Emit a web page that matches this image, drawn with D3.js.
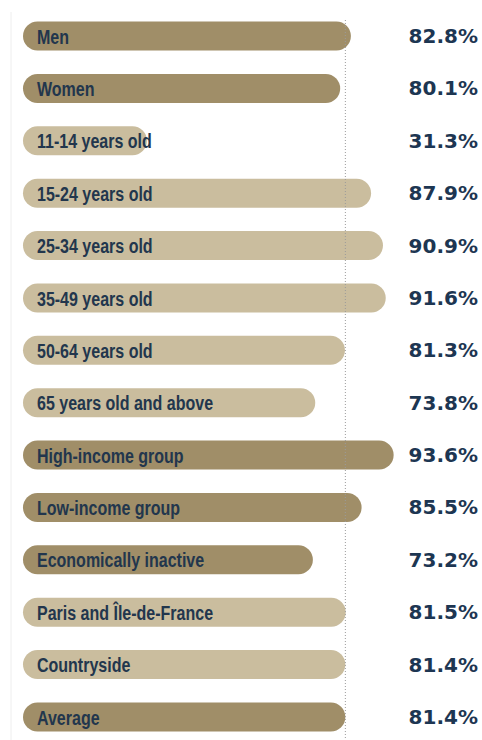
<!DOCTYPE html>
<html>
<head>
<meta charset="utf-8">
<script src="https://cdn.jsdelivr.net/npm/d3@7"></script>
<style>
  body { margin: 0; background: #fff; }
  .label { font-family: "Liberation Sans", Arial, sans-serif; font-weight: bold; }
  .value { font-family: "DejaVu Sans", sans-serif; font-weight: bold; }
</style>
</head>
<body>
<div id="chart"></div>
<script>
// data
const categories = ["Men", "Women", "11-14 years old", "15-24 years old", "25-34 years old",
    "35-49 years old", "50-64 years old", "65 years old and above", "High-income group",
    "Low-income group", "Economically inactive", "Paris and Île-de-France", "Countryside", "Average"];
const values = [82.8, 80.1, 31.3, 87.9, 90.9, 91.6, 81.3, 73.8, 93.6, 85.5, 73.2, 81.5, 81.4, 81.4];
// which group each bar belongs to (dark = sex / income, light = age / area)
const groups = ["dark", "dark", "light", "light", "light", "light", "light", "light",
    "dark", "dark", "dark", "light", "light", "dark"];
const average = 81.4;

const data = categories.map((c, i) => ({ name: c, value: values[i], group: groups[i] }));

const width = 482, height = 740;
const barH = 29;

const svg = d3.select("#chart")
    .append("svg")
    .attr("width", width)
    .attr("height", height);

const xScale = d3.scaleLinear()
    .domain([0, 100])
    .range([23, 23 + 396]);

const yScale = d3.scalePoint()
    .domain(categories)
    .range([36, 717]);

const colorScale = d3.scaleOrdinal()
    .domain(["dark", "light"])
    .range(["#a08e68", "#cabd9e"]);

// faint frame line on the left
svg.append("line")
    .attr("x1", 11).attr("x2", 11)
    .attr("y1", 12).attr("y2", height)
    .attr("stroke", "#eeeeee")
    .attr("stroke-width", 1);

// bars
svg.selectAll(".bar")
    .data(data)
    .enter().append("rect")
    .attr("class", "bar")
    .attr("x", xScale(0))
    .attr("y", d => yScale(d.name) - barH / 2)
    .attr("width", d => xScale(d.value) - xScale(0))
    .attr("height", barH)
    .attr("rx", barH / 2)
    .attr("fill", d => colorScale(d.group));

// dotted average line
svg.append("line")
    .attr("x1", xScale(average)).attr("x2", xScale(average))
    .attr("y1", 20).attr("y2", 738)
    .attr("stroke", "#9a9a9a")
    .attr("stroke-width", 1)
    .attr("stroke-dasharray", "1,2");

// labels inside bars (condensed look by squeezing horizontally)
svg.selectAll(".label")
    .data(data)
    .enter().append("text")
    .attr("class", "label")
    .attr("transform", d => `translate(${xScale(0) + 14},${yScale(d.name) + 1}) scale(0.8,1)`)
    .attr("dominant-baseline", "central")
    .attr("font-size", 20)
    .attr("fill", "#22364d")
    .text(d => d.name);

// values on the right
svg.selectAll(".value")
    .data(data)
    .enter().append("text")
    .attr("class", "value")
    .attr("x", 478)
    .attr("y", d => yScale(d.name))
    .attr("text-anchor", "end")
    .attr("dominant-baseline", "central")
    .attr("font-size", 20)
    .attr("fill", "#1d3652")
    .text(d => `${d.value.toFixed(1)}%`);
</script>
</body>
</html>
